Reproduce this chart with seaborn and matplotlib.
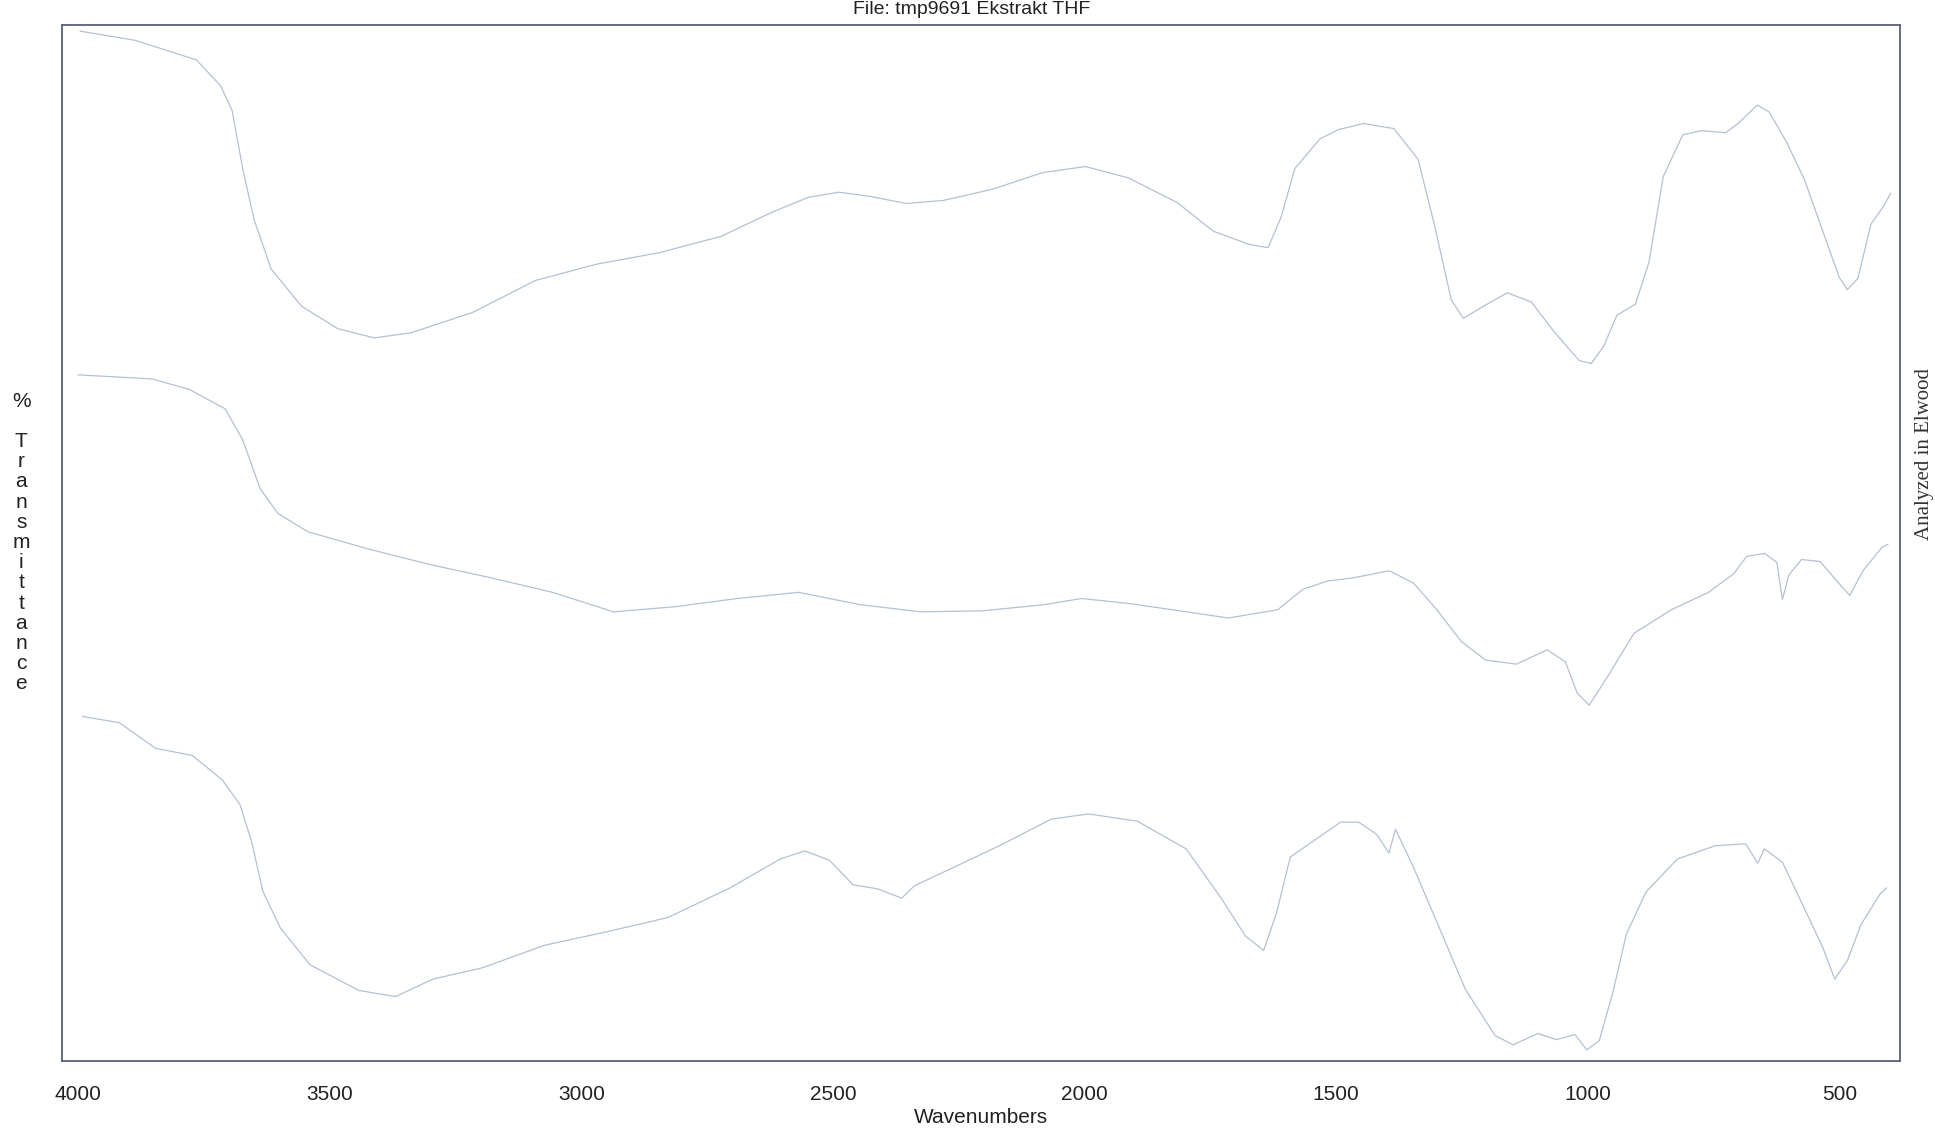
import matplotlib
matplotlib.use("Agg")
import matplotlib.pyplot as plt
import seaborn as sns
import pandas as pd

# ---- data (%T arbitrary, offset traces) ----
wn_top = [3996, 3886, 3765, 3717, 3694, 3672, 3650, 3616, 3556, 3484, 3411, 3338, 3215, 3091,
          2968, 2845, 2722, 2623, 2549, 2488, 2427, 2354, 2280, 2182, 2084, 1998, 1913, 1816,
          1744, 1672, 1635, 1609, 1582, 1532, 1495, 1446, 1385, 1337, 1304, 1271, 1247, 1210, 1160,
          1112, 1065, 1017, 993, 968, 942, 905, 878, 850, 811, 774, 726, 701, 663, 639, 604,
          569, 535, 500, 484, 463, 437, 411, 398]
t_top = [99.4, 98.5, 96.6, 94.1, 91.7, 85.8, 81.0, 76.2, 72.6, 70.4, 69.5, 70.0, 72.0, 75.1,
         76.7, 77.8, 79.4, 81.7, 83.2, 83.7, 83.3, 82.6, 82.9, 84.0, 85.6, 86.2, 85.1, 82.7,
         79.9, 78.6, 78.3, 81.3, 86.0, 88.9, 89.8, 90.4, 89.9, 86.9, 80.4, 73.2, 71.4, 72.5, 73.9,
         73.0, 70.0, 67.3, 67.0, 68.7, 71.7, 72.8, 76.9, 85.2, 89.3, 89.7, 89.5, 90.4, 92.2,
         91.5, 88.5, 84.9, 80.2, 75.4, 74.2, 75.3, 80.6, 82.4, 83.6]

wn_mid = [4000, 3853, 3780, 3708, 3673, 3638, 3603, 3543, 3421, 3300, 3178, 3057, 2936, 2813,
          2690, 2568, 2446, 2325, 2202, 2080, 2006, 1909, 1811, 1714, 1616, 1566, 1517, 1468,
          1394, 1346, 1298, 1251, 1203, 1142, 1080, 1044, 1021, 997, 959, 908, 834, 760, 710,
          684, 648, 624, 613, 600, 575, 538, 503, 479, 453, 415, 403]
t_mid = [65.9, 65.5, 64.5, 62.6, 59.6, 54.8, 52.4, 50.6, 48.9, 47.4, 46.1, 44.7, 42.8, 43.3,
         44.1, 44.7, 43.5, 42.8, 42.9, 43.5, 44.1, 43.6, 42.9, 42.2, 43.0, 45.0, 45.8, 46.1,
         46.8, 45.6, 42.9, 39.9, 38.1, 37.7, 39.1, 37.9, 34.9, 33.7, 36.6, 40.7, 43.0, 44.7,
         46.5, 48.2, 48.5, 47.6, 44.0, 46.4, 47.9, 47.7, 45.7, 44.4, 46.8, 49.1, 49.4]

wn_bot = [3991, 3918, 3846, 3773, 3713, 3678, 3655, 3633, 3598, 3539, 3442, 3369, 3295, 3197,
          3073, 2951, 2828, 2704, 2605, 2556, 2507, 2460, 2411, 2363, 2338, 2264, 2165, 2066,
          1992, 1895, 1798, 1727, 1680, 1644, 1618, 1591, 1541, 1491, 1455, 1419, 1395, 1382,
          1347, 1300, 1243, 1184, 1148, 1099, 1062, 1025, 1002, 977, 950, 923, 884, 822, 747,
          686, 662, 649, 613, 578, 532, 509, 484, 457, 419, 406]
t_bot = [32.6, 32.0, 29.5, 28.8, 26.4, 24.0, 20.4, 15.6, 12.0, 8.4, 5.9, 5.3, 7.0, 8.1,
         10.3, 11.6, 13.0, 15.9, 18.7, 19.5, 18.6, 16.2, 15.8, 14.9, 16.1, 17.8, 20.1, 22.6,
         23.1, 22.4, 19.7, 14.8, 11.2, 9.8, 13.5, 18.9, 20.6, 22.3, 22.3, 21.1, 19.3, 21.6,
         18.0, 12.6, 6.0, 1.5, 0.6, 1.7, 1.1, 1.6, 0.1, 1.0, 5.7, 11.4, 15.5, 18.7, 20.0,
         20.2, 18.3, 19.7, 18.4, 14.8, 10.0, 7.0, 8.8, 12.3, 15.3, 15.9]

x_ticks = [4000, 3500, 3000, 2500, 2000, 1500, 1000, 500]
title_text = "File: tmp9691 Ekstrakt THF"
x_label = "Wavenumbers"
y_label = "% Transmittance"
margin_note = "Analyzed in Elwood"

df = pd.concat([
    pd.DataFrame({"wn": wn_top, "T": t_top, "trace": "top"}),
    pd.DataFrame({"wn": wn_mid, "T": t_mid, "trace": "mid"}),
    pd.DataFrame({"wn": wn_bot, "T": t_bot, "trace": "bot"}),
])

sns.set_theme(style="white")
plt.rcParams["font.family"] = ["Liberation Sans", "DejaVu Sans"]

fig = plt.figure(figsize=(19.35, 11.35), dpi=100)
ax = fig.add_axes([0.032, 0.065, 0.950, 0.913])

sns.lineplot(data=df, x="wn", y="T", units="trace", estimator=None, sort=False,
             color="#b4c0d3", linewidth=0.9, ax=ax)

ax.set_xlim(4032, 379)
ax.set_ylim(-1, 100)
ax.set_xticks(x_ticks)
ax.set_xticklabels([str(v) for v in x_ticks], fontsize=15, color="#222222")
ax.set_yticks([])
ax.tick_params(axis="x", direction="out", length=8, width=1, color="#666a78", pad=9)
ax.set_xlabel(x_label, fontsize=15, color="#222222", labelpad=3)
ax.set_ylabel("")
for s in ax.spines.values():
    s.set_visible(True)
    s.set_color("#5a6075")
    s.set_linewidth(1.3)

fig.text(0.502, 0.9995, title_text, ha="center", va="top", fontsize=14, color="#222222")

letters = "%\n\n" + "\n".join("Transmittance")
fig.text(0.011, 0.655, letters, ha="center", va="top", fontsize=15,
         color="#222222", linespacing=1.08)

fig.text(0.9995, 0.60, margin_note, ha="right", va="center", rotation=90,
         fontsize=15, family=["Liberation Serif", "DejaVu Serif"], color="#333333")

fig.savefig("out.png", dpi=100, facecolor="white")
